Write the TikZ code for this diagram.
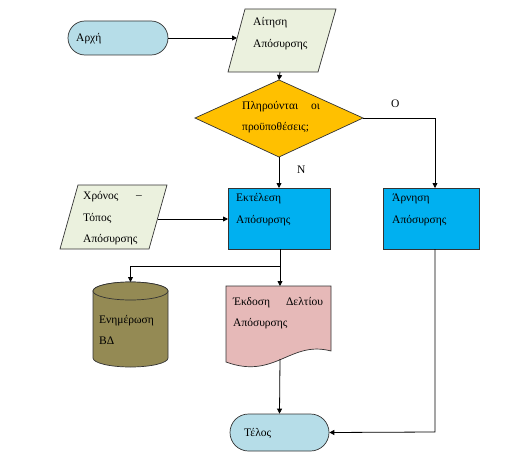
\documentclass[tikz,border=0pt]{standalone}
\usepackage{fontspec}
\setmainfont{Liberation Serif}
\usetikzlibrary{arrows.meta,shapes.misc}
\definecolor{termfill}{HTML}{B6DDE8}
\definecolor{iofill}{HTML}{EBF1DE}
\definecolor{decfill}{HTML}{FFC000}
\definecolor{procfill}{HTML}{00B0F0}
\definecolor{dbfill}{HTML}{948A54}
\definecolor{docfill}{HTML}{E6B9B8}
\tikzset{
  shapeline/.style={draw=black!80, line width=0.7pt},
  term/.style={shapeline, fill=termfill, rounded rectangle, inner sep=0pt},
  txt/.style={anchor=west, inner sep=0pt, font=\fontsize{11.5}{13}\selectfont},
  conn/.style={draw=black, line width=0.8pt},
  arr/.style={conn, -{Triangle[length=5pt,width=5pt]}},
}
\begin{document}
\begin{tikzpicture}[x=1pt,y=-1pt]
\useasboundingbox (0,0) rectangle (530,460);
% start
\node[term, minimum width=100pt, minimum height=34pt] (start) at (118,38) {};
\node[txt] (tstart) at (76,39) {Αρχή};
% input 1
\path[shapeline, fill=iofill] (245,9) coordinate (p1tl) -- (336,9) -- (318,72) -- (228,72) -- cycle;
\coordinate (p1w) at (237,38);
\coordinate (p1s) at (280,72);
\node[txt] (tp1a) at (253,23) {Αίτηση};
\node[txt] (tp1b) at (253,45) {Απόσυρσης};
% decision
\path[shapeline, fill=decfill] (279,80) coordinate (dn) -- (363,118) coordinate (de) -- (279,157) coordinate (ds) -- (195,118) -- cycle;
\node[txt] (td1) at (242,107) {Πληρούνται\hspace{13pt}οι};
\node[txt] (td2) at (242,128) {προϋποθέσεις;};
% process 1
\path[shapeline, fill=procfill] (228,188) rectangle (330,249);
\coordinate (pr1n) at (279,188);
\coordinate (pr1w) at (228,219);
\coordinate (pr1s) at (280,249);
\node[txt] (tpr1a) at (236,199) {Εκτέλεση};
\node[txt] (tpr1b) at (236,221) {Απόσυρσης};
% process 2
\path[shapeline, fill=procfill] (383,188) rectangle (479,249);
\coordinate (pr2n) at (435,188);
\coordinate (pr2s) at (435,249);
\node[txt] (tpr2a) at (392,199) {Άρνηση};
\node[txt] (tpr2b) at (392,221) {Απόσυρσης};
% input 2
\path[shapeline, fill=iofill] (78,185) -- (167,185) -- (149,249) -- (60,249) -- cycle;
\coordinate (p2e) at (158,219);
\node[txt] (tp2a) at (83,197) {Χρόνος};
\node[txt] (tp2d) at (136,197) {–};
\node[txt] (tp2b) at (83,218) {Τόπος};
\node[txt] (tp2c) at (83,240) {Απόσυρσης};
% database
\path[shapeline, fill=dbfill] (93,291) -- (93,358) arc[start angle=180, end angle=360, x radius=37.5, y radius=-9] -- (168,291) arc[start angle=0, end angle=180, x radius=37.5, y radius=-9] -- cycle;
\path[shapeline, fill=dbfill] (130.5,291) ellipse[x radius=37.5, y radius=9];
\coordinate (dbn) at (130.5,282);
\node[txt] (tdb1) at (99,321) {Ενημέρωση};
\node[txt] (tdb2) at (99,341) {ΒΔ};
% document
\path[shapeline, fill=docfill] (226,286) -- (331,286) -- (331,351) .. controls (290,340) and (275,380) .. (226,362) -- cycle;
\coordinate (docn) at (280,286);
\coordinate (docs) at (280,359);
\node[txt] (tdoc1) at (233,303) {Έκδοση\hspace{16pt}Δελτίου};
\node[txt] (tdoc2) at (233,324) {Απόσυρσης};
% end
\node[term, minimum width=99pt, minimum height=37pt] (end) at (279.5,432.5) {};
\node[txt] (tend) at (244,433) {Τέλος};
% branch coordinates
\coordinate (oright) at (435,118);
\coordinate (split) at (280,266);
\coordinate (splitl) at (130.5,266);
\coordinate (rdown) at (435,432);
% connectors
\draw[arr] (start.east) -- (p1w);
\draw[arr] (p1s) -- (dn);
\draw[arr] (de) -- (oright) -- (pr2n);
\draw[arr] (ds) -- (pr1n);
\draw[arr] (p2e) -- (pr1w);
\draw[arr] (pr1s) -- (docn);
\draw[arr] (split) -- (splitl) -- (dbn);
\draw[arr] (docs) -- (end.north);
\draw[arr] (pr2s) -- (rdown) -- (end.east);
% labels
\node[txt] (lo) at (391,104) {Ο};
\node[txt] (ln) at (297,170) {Ν};
\end{tikzpicture}
\end{document}
